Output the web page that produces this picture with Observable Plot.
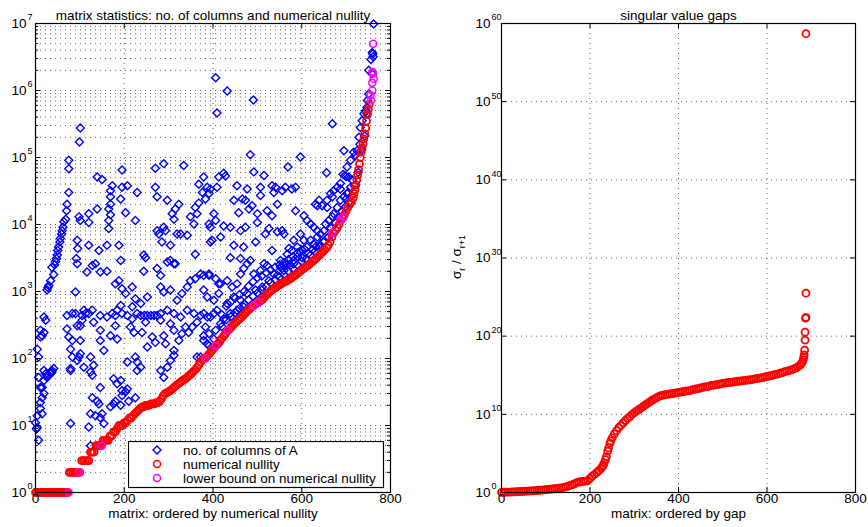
<!DOCTYPE html>
<html><head><meta charset="utf-8">
<script src="https://cdn.jsdelivr.net/npm/d3@7"></script>
<script src="https://cdn.jsdelivr.net/npm/@observablehq/plot@0.6"></script>
<style>
body{margin:0;background:#fff;}
#fig{position:relative;width:868px;height:527px;background:#fff;overflow:hidden;}
</style></head><body><div id="fig"></div>
<script>
const FONT = '"Liberation Sans", Arial, Helvetica, sans-serif';

// ---------- text ----------
const leftTitle = "matrix statistics: no. of columns and numerical nullity";
const leftXLabel = "matrix: ordered by numerical nullity";
const rightTitle = "singular value gaps";
const rightXLabel = "matrix: ordered by gap";
const legendLabels = ["no. of columns of A", "numerical nullity", "lower bound on numerical nullity"];

// ---------- ticks ----------
const xTicks = [0, 200, 400, 600, 800];
const xGrid = [200, 400, 600];
const leftDecades = [0, 1, 2, 3, 4, 5, 6, 7];
const leftMinorMult = [2, 3, 4, 5, 6, 7, 8, 9];
const rightDecades = [0, 10, 20, 30, 40, 50, 60];

// ---------- left chart data: [rank, value] ----------
const columns = [
[101,275000],[99,170000],[406,1550000],[409,460000],[75,91000],[75,68000],[75,30000],[71,20000],[70,16000],
[68,12000],[64,11000],[62,9100],[60,8100],[59,7200],[56,6200],[55,5500],[52,4600],[50,4100],[49,3500],[47,3100],[45,2800],[43,2500],
[37,2300],[41,1800],[34,1450],[30,1230],[26,1050],[28,1150],
[139,51000],[150,47000],[173,38000],[169,32000],[169,26000],[169,20000],[165,17000],[169,14000],[165,11500],[165,8700],[161,4900],
[195,65000],[195,36000],[207,38000],[192,24000],[203,15000],[225,11500],[229,30000],[244,3500],[248,3200],[192,2900],[188,4900],[143,4100],[120,4900],[120,10700],[120,14500],[139,17000],[98,13000],[101,11500],[94,5800],[95,4400],[92,3100],[135,2600],
[270,69000],[289,81000],[270,36000],[274,26000],[297,23000],[308,14500],[323,20000],[315,17000],[312,12000],[278,7200],[289,9100],[293,8100],[285,5500],[304,4900],[319,7200],[327,7200],[342,6900],[334,76000],[349,13000],[357,10200],[364,14500],[360,18000],[368,21000],[379,51000],[391,29000],[394,34000],[368,40000],[383,24000],[394,9100],[398,5800],[406,11500],[413,51000],[304,2900],[315,2600],[360,3600],[274,8100],[394,5500],
[762,9800000],[759,3700000],[761,3200000],[756,2900000],[760,3500000],[751,2000000],[758,1800000],[432,980000],[491,720000],[669,320000],[747,560000],[747,450000],[695,126000],[484,110000],[597,102000],[569,72000],[729,200000],[731,158000],[725,126000],[721,107000],[656,59000],[693,56000],[697,54000],[700,52000],[424,58000],[428,53000],[492,61000],[515,54000],
[387,36000],[376,30000],[409,36000],
[454,38000],[477,34000],[507,36000],[533,38000],[541,36000],[563,36000],[586,36000],
[447,23000],[466,24000],[473,23000],[488,19000],[507,27000],[537,30000],[556,32000],[578,34000],
[545,20000],[586,16000],[635,19000],[657,18000],[669,26000],[687,34000],
[458,15000],[481,17000],[500,14500],[522,16000],[533,13500],
[402,14500],[391,10200],[424,9500],[439,9100],[462,8100],[473,9100],[500,10700],[526,8700],[545,7800],[560,7200],
[417,6500],[447,4900],[469,4600],[496,5500],[518,7200],[556,8100],[582,5800],
[439,3200],[462,3100],[484,2900],[515,2600],[533,4100],[552,2900],[571,4400],
[605,13500],[612,11500],[620,10200],[627,9100],[635,8100],[642,7200],[650,8100],[657,23000],[665,29000],[672,32000],[680,36000],[687,41000],[702,72000],[710,91000],[717,120000],[631,20000],[639,23000],[646,19000],[597,7200],[605,5800],[612,4600],[620,5800],[627,5100],[635,6500],[567,3600],[578,4100],[590,4600],[601,3200],[612,2900],[620,2600],[582,2600],[560,2450],[672,14500],[680,18000],[687,23000],[695,26000],[702,29000],[710,36000],[714,46000],[706,51000],[669,13000],[661,11500],[654,10200],
[732,280000],[736,355000],[740,450000],[744,500000],[748,710000],[751,890000],
[0,11],[4,9.3],[2,8.9],[7,6],[11,18],[4,14],[15,15],[11,22],[19,30],[15,26],[11,37],[7,52],
[19,66],[23,59],[26,56],[34,63],[37,66],[41,71],[15,37],[19,47],[26,52],[30,56],[34,59],[37,63],
[7,105],[4,138],[11,209],[15,219],[19,245],[11,263],[19,417],[23,372],[79,10.7],[90,980],
[71,275],[75,209],[83,186],[79,138],[83,105],[79,71],[79,66],[101,186],[98,105],
[71,437],[83,468],[90,468],[105,437],[113,468],[120,468],[128,525],[109,525],
[105,372],[94,309],[131,347],[146,437],[161,417],[173,468],[180,437],[184,525],[195,468],[207,437],[218,389],[229,468],
[237,437],[245,437],[252,437],[260,437],[267,437],[274,437],
[282,468],[297,525],[312,468],[327,417],[342,525],[357,468],[372,437],[387,417],[402,468],
[161,2000],[188,1450],[180,1300],[195,1100],[203,930],[192,620],[218,1170],[225,780],[218,590],[237,660],[252,830],[282,1170],[289,980],[304,1050],[319,740],[330,930],[342,1170],[349,1450],[360,1550],[372,1820],[391,1740],[406,1550],
[94,2600],[116,1950],[128,2450],[146,1950],[244,2000],[274,2200],[297,2750],[312,2600],[282,1740],[379,1050],[413,1300],
[101,118],[124,105],[124,63],[128,56],[131,79],[146,186],[146,263],[154,132],[169,219],[184,195],[180,309],[214,295],[222,245],[240,245],[248,347],[252,148],[263,209],[270,174],[282,372],[289,219],[293,166],[304,331],[312,263],[312,132],[312,112],[297,74],[304,93],[282,66],[289,52],[323,186],[330,234],[338,295],[345,245],[353,295],[364,347],[379,219],[391,155],[402,195],[413,166],[372,105],[229,89],[225,105],[229,66],[237,74],[225,26],[176,50],[192,47],[195,33],[203,32],[146,37],[150,15],[139,23],[143,21],[135,14],[120,9.5],[124,15],[128,26],[154,10.7],[146,13],[169,19],[176,21],[180,23],[192,20],[195,28],[207,35],[210,23],[207,89],[184,42],[124,5],[94,93],[109,74],[101,309],[364,105],
[379,1740],[391,1820],[417,1300],[432,1450],[443,1170],[454,1300],[462,1820],[469,2200],[477,2600],[492,1820],[507,2050],[522,2450],[537,1820],[552,2300],[567,2600],[582,2900],
[387,830],[402,740],[413,930],[432,660],[447,830],[462,740],[477,930],[496,1050],[511,1170],[526,1450],[545,1740],[560,2050],[575,2450],
[379,468],[394,417],[409,525],[424,389],[439,468],[454,525],[469,590],[383,295],[391,234],[406,263],[417,331],[379,186],[387,166],
[590,3300],[598,3900],[606,4300],[615,3700],[624,4200],[632,4700],[641,5000],[649,5600],[658,6300],[666,8800],[676,10500],[684,12500],[691,15500],[699,18500],[706,21500],[713,27000],[719,38000],[727,60000],[735,130000],[742,210000],
[420,300],[420,450],[430,380],[430,600],[440,420],[440,700],[450,480],[450,800],[460,560],[460,900],[470,650],[470,1000],
[480,750],[480,1200],[490,850],[490,1400],[500,950],[500,1600],[510,1050],[510,1700],[520,1200],[520,1900],[530,1350],[530,2100],
[540,1500],[540,2300],[550,1650],[550,2500],[560,1800],[560,2700],[570,2000],[570,3000],[580,2200],[580,3300],[590,2500],[590,3800],
[600,2800],[600,4200],[610,3100],[620,3500],[630,4000],[640,4600],[650,5500],[660,6500],[700,24000],[705,30000]
];

const nullity = [
[0,1],[4,1],[8,1],[12,1],[16,1],[20,1],[24,1],[28,1],[32,1],[36,1],[40,1],[44,1],[48,1],[52,1],[56,1],[60,1],[64,1],[68,1],[72,1],
[76,2],[80,2],[84,2],[88,2],[92,2],[96,2],[100,2],[104,3],[108,3],[112,3],[116,3],[120,3],[124,4],[128,4],[132,4],
[136,5],[140,5],[144,5],[148,5],[152,6],[156,6],[160,6],[164,6],[168,7],[172,7],[176,8],[180,8],[184,9],[188,10],[192,10],[196,10],
[200,11],[204,11],[208,12],[212,13],[216,13],[220,14],[224,15],[228,16],[232,17],[236,18],[240,19],[244,19],[248,20],[252,20],[256,20],
[260,21],[264,21],[268,21],[272,22],[276,22],[280,23],[284,25],[288,28],[292,30],[296,31],[300,32],[304,33],[308,35],[312,37],[316,39],
[320,41],[324,43],[328,45],[332,47],[336,49],[340,51],[344,54],[348,57],[352,60],[356,64],[360,68],[364,73],[368,80],[372,88],[376,95],
[380,100],[384,104],[388,110],[392,118],[396,128],[400,138],[404,148],[408,158],[412,170],[416,186],[420,200],[424,215],[428,235],[432,255],
[436,270],[440,290],[444,310],[448,330],[452,350],[456,370],[460,390],[464,410],[468,440],[472,470],[476,500],[480,530],[484,560],[488,590],
[492,615],[496,650],[500,680],[504,700],[508,730],[512,770],[516,820],[520,880],[524,940],[528,990],[532,1040],[536,1090],[540,1130],
[544,1180],[548,1230],[552,1280],[556,1330],[560,1380],[564,1420],[568,1460],[572,1520],[576,1580],[580,1650],[584,1720],[588,1800],
[592,1900],[596,2000],[600,2100],[604,2200],[608,2300],[612,2400],[616,2500],[620,2650],[624,2800],[628,2950],[632,3100],[636,3300],
[640,3500],[644,3700],[648,3950],[652,4200],[656,4500],[660,4900],[664,5500],[668,6500],[672,7500],[676,8200],[680,9000],[684,10000],
[688,11500],[692,12500],[696,14000],[700,16000],[704,18000],[708,20000],[712,22000],[716,25000],[718,29000],[720,33000],[722,39000],
[724,46000],[726,55000],[728,66000],[730,80000],[732,100000],[734,120000],[736,140000],[738,160000],[740,190000],[742,225000],
[744,275000],[746,350000],[748,440000],[750,520000],[752,620000]
];

const lowerBound = [
[75,1],[98,2],[149,5],[383,100],[406,155],[433,263],[492,615],[503,690],[669,7500],[687,11500],[694,12700],
[756,710000],[755,850000],[759,1000000],[759,1300000],[762,1500000],[761,1800000],[759,1900000],[761,5000000]
];

// ---------- right chart data: [rank, gap] ----------
const gaps = [
[0,1.05],[5,1.07],[10,1.1],[15,1.12],[20,1.15],[25,1.19],[30,1.23],[35,1.27],[40,1.32],[45,1.36],[50,1.41],[55,1.46],[60,1.51],
[65,1.58],[70,1.66],[75,1.74],[80,1.82],[85,1.93],[90,2.04],[95,2.15],[100,2.29],[105,2.45],[110,2.63],[115,2.8],[120,3.0],
[125,3.3],[130,3.6],[135,4.0],[140,4.6],[145,5.3],[150,6.3],[155,7.9],[160,10],[165,13],[170,18],[175,22],[180,25],[185,27],
[190,28],[195,32],[200,63],[205,126],[210,200],[215,355],[220,630],[225,1260],[228,2000],[230,3200],[232,6000],[235,1.6e4],
[237,4e4],[240,2e5],[242,5e5],[245,2e6],[247,4e6],[250,1e7],[255,3.2e7],[260,8e7],[265,2e8],[270,4e8],[275,8e8],[280,1.6e9],
[285,3e9],[290,5e9],[295,1e10],[300,1.6e10],[305,2.5e10],[310,4e10],[315,6.3e10],[320,1e11],[325,1.6e11],[330,2.5e11],
[335,4e11],[340,6.3e11],[345,9e11],[350,1.26e12],[355,1.8e12],[360,2.5e12],[365,2.8e12],[370,3.2e12],[375,3.6e12],[380,4e12],
[385,4.5e12],[390,5e12],[395,5.6e12],[400,6.3e12],[405,7e12],[410,8e12],[415,9e12],[420,1e13],[425,1.1e13],[430,1.3e13],
[435,1.6e13],[440,1.8e13],[445,2e13],[450,2.4e13],[455,2.8e13],[460,3.2e13],[465,3.6e13],[470,4.2e13],[475,5e13],[480,5.6e13],
[485,6.3e13],[490,7e13],[495,8e13],[500,8.9e13],[505,1e14],[510,1.1e14],[515,1.2e14],[520,1.26e14],[525,1.4e14],[530,1.6e14],
[535,1.7e14],[540,1.8e14],[545,2e14],[550,2.2e14],[555,2.4e14],[560,2.5e14],[565,2.8e14],[570,3.2e14],[575,3.6e14],[580,4e14],
[585,4.5e14],[590,5e14],[595,6e14],[600,7e14],[605,8e14],[610,9e14],[615,1.1e15],[620,1.26e15],[625,1.5e15],[630,1.8e15],
[635,2.2e15],[640,2.8e15],[645,3.3e15],[650,4e15],[655,5e15],[660,6.3e15],[665,8e15],[670,1.26e16],[675,2e16],[678,3.2e16],
[680,5e16],[682,1e17],[683,2e17],[684,4e17],[685,1.6e18],[686,3.2e19],[686,3.2e20],[687,2e22],[688,2.5e22],[688,3.2e25],[688,5e58]
];

// ---------- styling ----------
const BLUE = "#0000ff", RED = "#ff0000", MAGENTA = "#ff00ff";
const GRID = {stroke: "#666", strokeWidth: 1, strokeDasharray: "1,4"};
const FS = 13.5;
const H = 527, MT = 23, MB = 35;

function decadeLabels(decades, dxBase) {
  return [
    Plot.text(decades, {y: d => 10 ** d, text: () => "10", frameAnchor: "left", textAnchor: "end", dx: dxBase, fontSize: FS}),
    Plot.text(decades, {y: d => 10 ** d, text: d => String(d), frameAnchor: "left", textAnchor: "start", dx: dxBase + 1, dy: -6, fontSize: 9})
  ];
}

function frameMarks(innerW, innerH, yMajor, yMinor) {
  const m = [
    Plot.tickX(xTicks, {x: d => d, stroke: "black", insetTop: innerH - 5}),
    Plot.tickX(xTicks, {x: d => d, stroke: "black", insetBottom: innerH - 5}),
    Plot.tickY(yMajor, {y: d => d, stroke: "black", insetRight: innerW - 5}),
    Plot.tickY(yMajor, {y: d => d, stroke: "black", insetLeft: innerW - 5})
  ];
  if (yMinor) {
    m.push(Plot.tickY(yMinor, {y: d => d, stroke: "black", insetRight: innerW - 3}));
    m.push(Plot.tickY(yMinor, {y: d => d, stroke: "black", insetLeft: innerW - 3}));
  }
  m.push(Plot.frame({stroke: "black", strokeWidth: 1.2}));
  return m;
}

// ---------- left chart ----------
const LW = 420, LML = 35, LMR = 30;
const leftMajor = leftDecades.map(d => 10 ** d);
const leftMinor = leftDecades.slice(0, -1).flatMap(d => leftMinorMult.map(m => m * 10 ** d));

const left = Plot.plot({
  width: LW, height: H,
  marginLeft: LML, marginRight: LMR, marginTop: MT, marginBottom: MB,
  style: {fontFamily: FONT, fontSize: FS + "px", background: "transparent", overflow: "visible"},
  x: {domain: [0, 800], axis: null},
  y: {type: "log", domain: [1, 1e7], axis: null},
  marks: [
    Plot.ruleY(leftMinor, {y: d => d, ...GRID}),
    Plot.ruleY(leftMajor.slice(1, -1), {y: d => d, ...GRID}),
    Plot.ruleX(xGrid, {x: d => d, ...GRID}),
    Plot.dot(columns, {x: d => d[0], y: d => d[1], symbol: "diamond2", r: 3.6, stroke: BLUE, strokeWidth: 1.4, fill: "none"}),
    Plot.dot(nullity, {x: d => d[0], y: d => d[1], r: 3.5, stroke: RED, strokeWidth: 1.8, fill: "none"}),
    Plot.dot(lowerBound, {x: d => d[0], y: d => d[1], r: 3.5, stroke: MAGENTA, strokeWidth: 1.5, fill: "none"}),
    ...frameMarks(LW - LML - LMR, H - MT - MB, leftMajor, leftMinor),
    ...decadeLabels(leftDecades, -9),
    Plot.text(xTicks, {x: d => d, text: d => String(d), frameAnchor: "bottom", dy: 10.5, fontSize: FS}),
    Plot.text([leftXLabel], {text: d => d, frameAnchor: "bottom", dy: 25, fontSize: FS}),
    Plot.text([leftTitle], {text: d => d, frameAnchor: "top", dy: -13, fontSize: FS})
  ]
});
left.style.position = "absolute"; left.style.left = "0px"; left.style.top = "0px";

// ---------- right chart ----------
const RW = 448, RML = 81, RMR = 13;
const rightMajor = rightDecades.map(d => 10 ** d);
const right = Plot.plot({
  width: RW, height: H,
  marginLeft: RML, marginRight: RMR, marginTop: MT, marginBottom: MB,
  style: {fontFamily: FONT, fontSize: FS + "px", background: "transparent", overflow: "visible"},
  x: {domain: [0, 800], axis: null},
  y: {type: "log", domain: [1, 1e60], axis: null},
  marks: [
    Plot.ruleY(rightMajor.slice(1, -1), {y: d => d, ...GRID}),
    Plot.ruleX(xGrid, {x: d => d, ...GRID}),
    Plot.dot(gaps, {x: d => d[0], y: d => d[1], r: 3.5, stroke: RED, strokeWidth: 1.8, fill: "none"}),
    ...frameMarks(RW - RML - RMR, H - MT - MB, rightMajor, null),
    ...decadeLabels(rightDecades, -11),
    Plot.text(xTicks, {x: d => d, text: d => String(d), frameAnchor: "bottom", dy: 10.5, fontSize: FS}),
    Plot.text([rightXLabel], {text: d => d, frameAnchor: "bottom", dy: 25, fontSize: FS}),
    Plot.text([rightTitle], {text: d => d, frameAnchor: "top", dy: -13, fontSize: FS})
  ]
});
right.style.position = "absolute"; right.style.left = "420px"; right.style.top = "0px";

// y label on right chart: sigma_r / sigma_{r+1}
const yl = d3.select(right).append("text")
  .attr("transform", "translate(41,257) rotate(-90)")
  .attr("text-anchor", "middle")
  .attr("font-family", FONT).attr("font-size", FS).attr("fill", "black");
yl.append("tspan").text("σ");
yl.append("tspan").attr("font-size", 9).attr("dy", 4).text("r");
yl.append("tspan").attr("dy", -4).text(" / σ");
yl.append("tspan").attr("font-size", 9).attr("dy", 4).text("r+1");

const fig = document.getElementById("fig");
fig.appendChild(left);
fig.appendChild(right);

// legend (inside left axes)
const lg = d3.select(fig).append("svg")
  .attr("width", 257).attr("height", 48)
  .style("position", "absolute").style("left", "128px").style("top", "441px");
lg.append("rect").attr("x", 0.5).attr("y", 0.5).attr("width", 255).attr("height", 46)
  .attr("fill", "white").attr("stroke", "black").attr("stroke-width", 1.2);
const legendSymbols = [
  {sym: d3.symbolDiamond2, size: Math.PI * 3.6 * 3.6, color: BLUE, w: 1.4},
  {sym: d3.symbolCircle, size: Math.PI * 3.5 * 3.5, color: RED, w: 1.5},
  {sym: d3.symbolCircle, size: Math.PI * 3.5 * 3.5, color: MAGENTA, w: 1.5}
];
legendLabels.forEach((lab, i) => {
  const cy = 9 + i * 14;
  lg.append("path").attr("d", d3.symbol(legendSymbols[i].sym, legendSymbols[i].size)())
    .attr("transform", `translate(29,${cy})`).attr("fill", "none")
    .attr("stroke", legendSymbols[i].color).attr("stroke-width", legendSymbols[i].w);
  lg.append("text").attr("x", 55).attr("y", cy).attr("dy", "0.35em")
    .attr("font-family", FONT).attr("font-size", FS).attr("fill", "black").text(lab);
});
</script></body></html>
